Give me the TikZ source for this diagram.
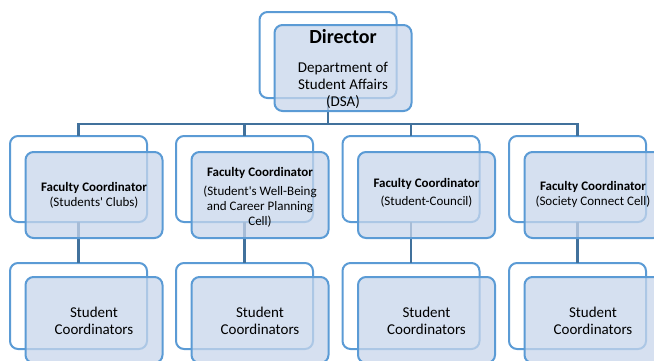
\documentclass[tikz,border=0pt]{standalone}
\usepackage{fontspec}
\setmainfont{Carlito}
\definecolor{boxline}{RGB}{91,155,213}
\definecolor{conn}{RGB}{65,113,156}
\definecolor{boxfill}{RGB}{200,214,235}
\begin{document}
\begin{tikzpicture}[x=1pt,y=-1pt,
  back/.style={draw=boxline, line width=2pt, rounded corners=8pt, fill=white,
    minimum width=137pt, minimum height=86pt, inner sep=0pt, outer sep=0pt},
  front/.style={back, fill=boxfill, fill opacity=0.75},
  link/.style={draw=conn, line width=2.4pt},
  lbl/.style={align=center, text=black, inner sep=0pt},
  mid/.style={lbl, font=\fontsize{13}{15}\selectfont},
  big/.style={lbl, font=\fontsize{15}{17}\selectfont}]
\useasboundingbox (0,0) rectangle (654,360);
\clip (0,0) rectangle (654,360);
% back boxes
\node[back] (b0) at (328,55) {};
\node[back] (b1) at (78.5,179) {};
\node[back] (b2) at (244.5,179) {};
\node[back] (b3) at (411,179) {};
\node[back] (b4) at (577.5,179) {};
\node[back] (c1) at (78.5,306) {};
\node[back] (c2) at (244.5,306) {};
\node[back] (c3) at (411,306) {};
\node[back] (c4) at (577.5,306) {};
% connectors
\draw[link] (b0.south) -- ++(0,26) -| (b1.north);
\draw[link] (b0.south) -- ++(0,26) -| (b2.north);
\draw[link] (b0.south) -- ++(0,26) -| (b3.north);
\draw[link] (b0.south) -- ++(0,26) -| (b4.north);
\draw[link] (b1.south) -- (c1.north);
\draw[link] (b2.south) -- (c2.north);
\draw[link] (b3.south) -- (c3.north);
\draw[link] (b4.south) -- (c4.north);
% front boxes
\node[front] (f0) at (343,68) {};
\node[front] (f1) at (94,195) {};
\node[front] (f2) at (260,195) {};
\node[front] (f3) at (426.5,195) {};
\node[front] (f4) at (593,195) {};
\node[front] (g1) at (94,320) {};
\node[front] (g2) at (260,320) {};
\node[front] (g3) at (426.5,320) {};
\node[front] (g4) at (593,320) {};
% texts
\node[lbl, font=\fontsize{20}{22}\selectfont\bfseries] (t0a) at (343,37) {Director};
\node[big] (t0b) at (343,85) {Department of\\Student Affairs\\(DSA)};
\node[mid] (t1) at (94,195) {\textbf{Faculty Coordinator}\\(Students\textquotesingle\ Clubs)};
\node[mid] (t2) at (260,197) {\textbf{Faculty Coordinator}\\[4pt](Student\textquotesingle s Well-Being\\and Career Planning\\Cell)};
\node[mid] (t3) at (426.5,193) {\textbf{Faculty Coordinator}\\[3pt](Student-Council)};
\node[mid] (t4) at (593,194.5) {\textbf{Faculty Coordinator}\\(Society Connect Cell)};
\node[big] (u1) at (94,321) {Student\\Coordinators};
\node[big] (u2) at (260,321) {Student\\Coordinators};
\node[big] (u3) at (426.5,321) {Student\\Coordinators};
\node[big] (u4) at (593,321) {Student\\Coordinators};
\end{tikzpicture}
\end{document}
